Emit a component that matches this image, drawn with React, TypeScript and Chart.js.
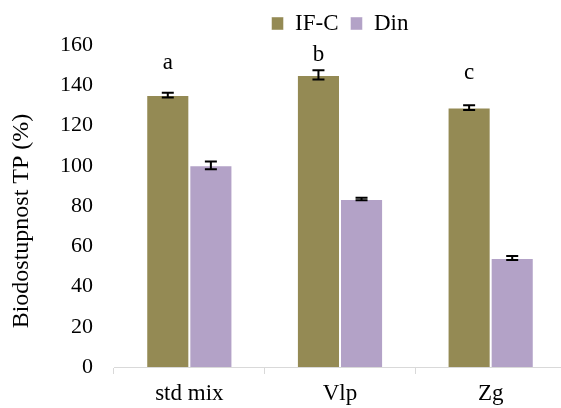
import React, { useEffect, useRef } from "react";
import { Chart, registerables } from "chart.js";

Chart.register(...registerables);

const categories = ["std mix", "Vlp", "Zg"];
const seriesNames = ["IF-C", "Din"];
const ifcValues = [135.1, 145.1, 128.9];
const ifcErrors = [1.2, 2.3, 1.2];
const dinValues = [100.2, 83.5, 54.2];
const dinErrors = [1.9, 0.6, 1.0];
const letters = ["a", "b", "c"];
const letterLevels = [148, 152, 143];
const yMin = 0;
const yMax = 160;
const yStep = 20;
const yTitle = "Biodostupnost TP (%)";

const FONT = "'Liberation Serif', 'Times New Roman', serif";
const COLORS = ["#948A54", "#B3A2C7"];

const errorsBySeries = [ifcErrors, dinErrors];

const annotationPlugin = {
  id: "annotations",
  afterDatasetsDraw(chart: any) {
    const ctx = chart.ctx;
    const yScale = chart.scales.y;
    // error bars
    chart.data.datasets.forEach((ds: any, di: number) => {
      const meta = chart.getDatasetMeta(di);
      const errs = errorsBySeries[di];
      meta.data.forEach((bar: any, i: number) => {
        const v = ds.data[i];
        const e = errs[i];
        const x = bar.x;
        const yt = yScale.getPixelForValue(v + e);
        const yb = yScale.getPixelForValue(v - e);
        ctx.save();
        ctx.strokeStyle = "#000";
        ctx.lineWidth = 2;
        ctx.beginPath();
        ctx.moveTo(x, yt);
        ctx.lineTo(x, yb);
        ctx.moveTo(x - 6, yt);
        ctx.lineTo(x + 6, yt);
        ctx.moveTo(x - 6, yb);
        ctx.lineTo(x + 6, yb);
        ctx.stroke();
        ctx.restore();
      });
    });
    // significance letters above IF-C bars
    const meta0 = chart.getDatasetMeta(0);
    ctx.save();
    ctx.fillStyle = "#000";
    ctx.font = `23px ${FONT}`;
    ctx.textAlign = "center";
    ctx.textBaseline = "alphabetic";
    meta0.data.forEach((bar: any, i: number) => {
      ctx.fillText(letters[i], bar.x, yScale.getPixelForValue(letterLevels[i]));
    });
    ctx.restore();
    // y axis title
    ctx.save();
    ctx.fillStyle = "#000";
    ctx.font = `24px ${FONT}`;
    ctx.textAlign = "center";
    ctx.textBaseline = "middle";
    ctx.translate(22, 221);
    ctx.rotate(-Math.PI / 2);
    ctx.fillText(yTitle, 0, 0);
    ctx.restore();
  },
};

export default function App() {
  const canvasRef = useRef<HTMLCanvasElement | null>(null);

  useEffect(() => {
    document.body.style.margin = "0";
    const canvas = canvasRef.current;
    if (!canvas) return;
    const chart = new Chart(canvas, {
      type: "bar",
      data: {
        labels: categories,
        datasets: [
          {
            label: seriesNames[0],
            data: ifcValues,
            backgroundColor: COLORS[0],
            borderColor: "rgba(255,255,255,0.45)",
            borderWidth: 1,
            categoryPercentage: 0.572,
            barPercentage: 1,
          },
          {
            label: seriesNames[1],
            data: dinValues,
            backgroundColor: COLORS[1],
            borderColor: "rgba(255,255,255,0.45)",
            borderWidth: 1,
            categoryPercentage: 0.572,
            barPercentage: 1,
          },
        ],
      },
      options: {
        animation: false,
        responsive: false,
        devicePixelRatio: 1,
        layout: { padding: { top: 0, right: 6, left: 0, bottom: 0 } },
        plugins: {
          legend: {
            display: true,
            position: "top",
            fullSize: false,
            labels: {
              boxWidth: 12,
              boxHeight: 13,
              padding: 12,
              color: "#000",
              font: { family: FONT, size: 23 },
            },
          },
          tooltip: { enabled: false },
        },
        scales: {
          x: {
            grid: {
              display: true,
              drawOnChartArea: false,
              drawTicks: true,
              tickLength: 7,
              color: "#d9d9d9",
              offset: true,
            },
            border: { display: true, color: "#d9d9d9", width: 1 },
            ticks: {
              color: "#000",
              font: { family: FONT, size: 23 },
              padding: 6,
              maxRotation: 0,
            },
            afterFit: (scale: any) => {
              scale.height = 41;
            },
          },
          y: {
            min: yMin,
            max: yMax,
            grid: { display: false, drawTicks: false },
            border: { display: false },
            ticks: {
              stepSize: yStep,
              color: "#000",
              font: { family: FONT, size: 22 },
              padding: 21,
            },
            afterFit: (scale: any) => {
              scale.width = 114;
            },
          },
        },
      },
      plugins: [annotationPlugin],
    });
    return () => chart.destroy();
  }, []);

  return (
    <div style={{ width: 561, height: 408, overflow: "hidden", position: "relative" }}>
      <canvas ref={canvasRef} width={572} height={408} style={{ display: "block", width: 572, height: 408 }} />
    </div>
  );
}
